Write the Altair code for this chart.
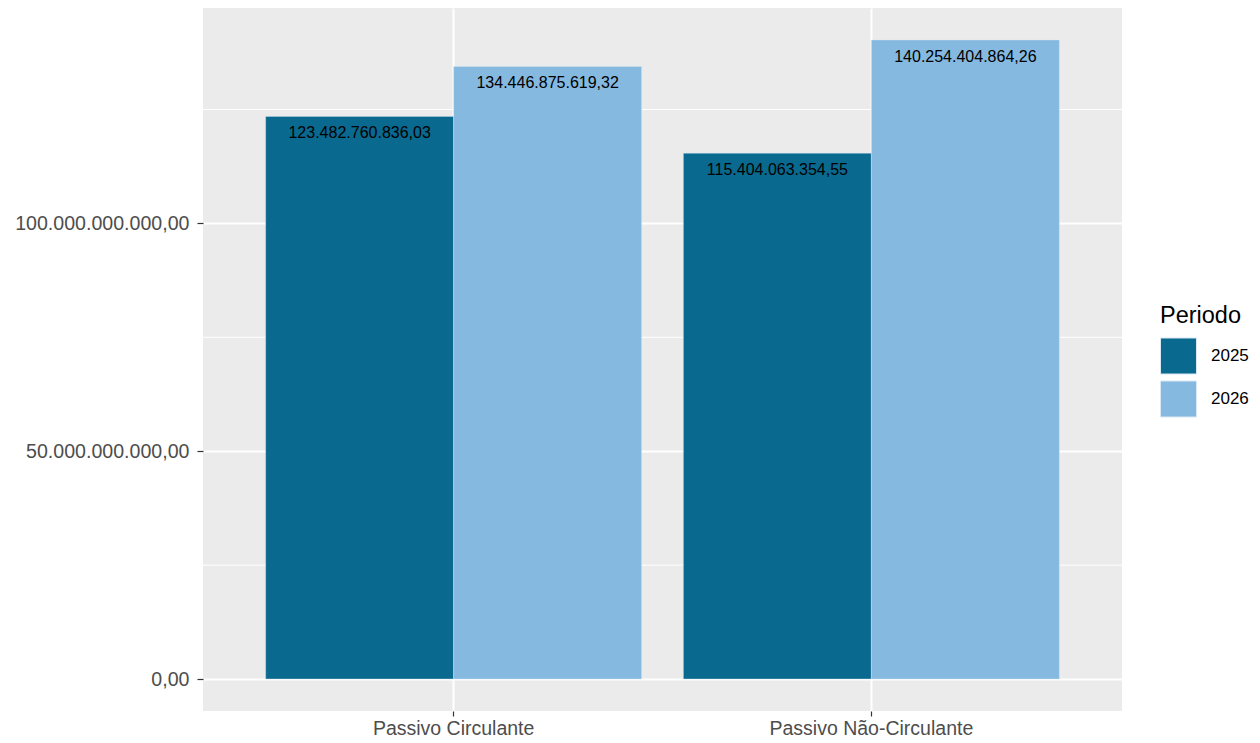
import altair as alt
import pandas as pd

categorias = ["Passivo Circulante", "Passivo Circulante", "Passivo Não-Circulante", "Passivo Não-Circulante"]
periodos = ["2025", "2026", "2025", "2026"]
valores = [123482760836.03, 134446875619.32, 115404063354.55, 140254404864.26]
minor_ticks = [25e9, 75e9, 125e9]
major_ticks = [0, 50e9, 100e9]
ordem = ["Passivo Circulante", "Passivo Não-Circulante"]


def br(v):
    s = f"{v:,.2f}"
    return s.replace(",", "X").replace(".", ",").replace("X", ".")


df = pd.DataFrame({
    "Categoria": categorias,
    "Periodo": periodos,
    "Valor": valores,
    "Rotulo": [br(v) for v in valores],
})
df_minor = pd.DataFrame({"v": minor_ticks})

ydom = [-7.013e9, 147.27e9]
yscale = alt.Scale(domain=ydom, nice=False, zero=False)
xscale = alt.Scale(paddingInner=0.1, paddingOuter=0.15)
color_scale = alt.Scale(domain=["2025", "2026"], range=["#09698F", "#85B9E0"])

yaxis = alt.Axis(values=major_ticks, format=",.2f", labelFontSize=19.6, labelColor="#4D4D4D",
                 labelFont="Liberation Sans", tickColor="#333333", tickSize=6, tickWidth=1.2,
                 labelPadding=8, domain=False, grid=True, gridColor="white", gridWidth=2,
                 labelLimit=300)
xaxis = alt.Axis(labelAngle=0, labelFontSize=19.5, labelColor="#4D4D4D", labelFont="Liberation Sans",
                 tickColor="#333333", tickSize=5, tickWidth=1.2, labelPadding=3, labelLimit=400,
                 domain=False, grid=True, gridColor="white", gridWidth=2, bandPosition=0.5)

xoff = alt.XOffset("Periodo:N", scale=alt.Scale(paddingInner=0, paddingOuter=0))

minor = alt.Chart(df_minor).mark_rule(color="white", strokeWidth=1).encode(
    y=alt.Y("v:Q", title=None, scale=yscale, axis=yaxis)
)

bars = alt.Chart(df).mark_bar(stroke="#d8e8f4", strokeWidth=0.4).encode(
    x=alt.X("Categoria:N", title=None, scale=xscale, sort=ordem, axis=xaxis),
    xOffset=xoff,
    y=alt.Y("Valor:Q", title=None, scale=yscale, axis=yaxis),
    color=alt.Color("Periodo:N", scale=color_scale,
                    legend=alt.Legend(title="Periodo", orient="none", legendX=957, legendY=296,
                                      titleFontSize=23.5, titleFontWeight="normal", titleColor="black",
                                      titleFont="Liberation Sans", titlePadding=10,
                                      labelFontSize=17, labelColor="black", labelFont="Liberation Sans",
                                      symbolType="square", symbolSize=1296, symbolStrokeColor="#d8e8f4",
                                      symbolStrokeWidth=1, symbolOpacity=1, rowPadding=2, labelOffset=14)),
)

labels = alt.Chart(df).mark_text(baseline="middle", dy=17, fontSize=16, color="black",
                                  font="Liberation Sans").encode(
    x=alt.X("Categoria:N", title=None, scale=xscale, sort=ordem, axis=xaxis),
    xOffset=xoff,
    y=alt.Y("Valor:Q", title=None, scale=yscale, axis=yaxis),
    text="Rotulo:N",
)

chart = alt.layer(minor, bars, labels).properties(
    width=919, height=703,
    padding={"left": 195, "top": 0, "right": 130, "bottom": 34},
    autosize=alt.AutoSizeParams(type="none"),
    background="white",
).configure(
    locale={"number": {"decimal": ",", "thousands": ".", "grouping": [3], "currency": ["R$", ""]}},
    view={"stroke": None, "fill": "#EBEBEB"},
)

chart.save("out.html", embed_options={"renderer": "svg", "actions": False})
